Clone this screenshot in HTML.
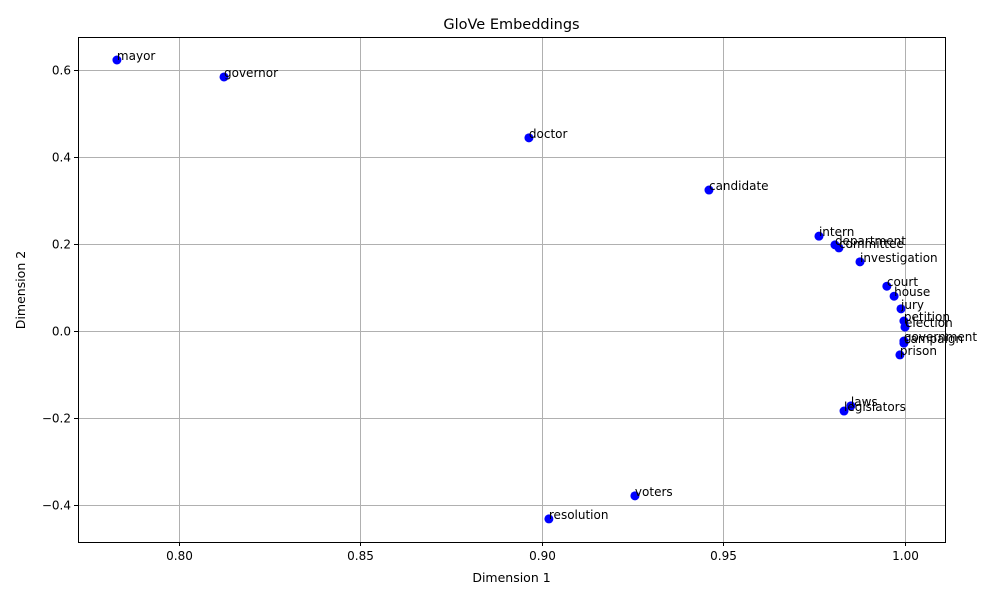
<!DOCTYPE html>
<html><head><meta charset="utf-8"><style>
body{margin:0;background:#fff;font-family:"Liberation Sans","DejaVu Sans",sans-serif}
svg text{font-family:"DejaVu Sans","Liberation Sans",sans-serif}
</style></head><body>
<svg id="chart" width="1000" height="600" xmlns="http://www.w3.org/2000/svg"></svg>
<script>
const words=["mayor","governor","doctor","candidate","intern","department","committee","investigation","court","house","jury","petition","election","government","campaign","prison","laws","legislators","voters","resolution"];
const dim1=[0.7829,0.8124,0.8964,0.946,0.9763,0.9807,0.9818,0.9876,0.995,0.997,0.9989,0.9997,1.0,0.9997,0.9997,0.9986,0.9851,0.9832,0.9256,0.9019];
const dim2=[0.623,0.584,0.444,0.324,0.218,0.198,0.191,0.159,0.103,0.080,0.051,0.023,0.009,-0.023,-0.028,-0.055,-0.172,-0.184,-0.379,-0.432];
const xTicks=[0.80,0.85,0.90,0.95,1.00];
const xTickLabels=["0.80","0.85","0.90","0.95","1.00"];
const yTicks=[-0.4,-0.2,0.0,0.2,0.4,0.6];
const yTickLabels=["\u22120.4","\u22120.2","0.0","0.2","0.4","0.6"];
const L=78,R=945,T=37,B=542;
const sx=v=>179+(v-0.80)*3630;
const sy=v=>331-v*435;
const svg=document.getElementById('chart');
const NS="http://www.w3.org/2000/svg";
function mk(tag,attrs,parent){const e=document.createElementNS(NS,tag);for(const k in attrs)e.setAttribute(k,attrs[k]);(parent||svg).appendChild(e);return e;}
const grid=mk('g',{});


xTicks.forEach((v,i)=>{
 const x=Math.round(sx(v))+0.5;
 mk('line',{x1:x,x2:x,y1:T,y2:B,stroke:'#b0b0b0','stroke-width':1},grid);
 mk('line',{x1:x,x2:x,y1:B,y2:B+4,stroke:'#000','stroke-width':1});
 const t=mk('text',{x:x,y:B+18,'font-size':12,'text-anchor':'middle'});t.textContent=xTickLabels[i];
 
 
});
yTicks.forEach((v,i)=>{
 const y=Math.round(sy(v))+0.5;
 mk('line',{x1:L,x2:R,y1:y,y2:y,stroke:'#b0b0b0','stroke-width':1},grid);
 mk('line',{x1:L-4,x2:L,y1:y,y2:y,stroke:'#000','stroke-width':1});
 const t=mk('text',{x:L-7,y:y+4,'font-size':12,'text-anchor':'end'});t.textContent=yTickLabels[i];
 
 
});
const pts=mk('g',{});


words.forEach((w,i)=>{
 const x=sx(dim1[i]),y=sy(dim2[i]);
 const c=mk('circle',{cx:x,cy:y,r:4.5,fill:'#0000ff'},pts);
 
 
});
words.forEach((w,i)=>{
 const x=sx(dim1[i]),y=sy(dim2[i]);
 const t=mk('text',{x:x,y:y,'font-size':12},pts);t.textContent=w;
 
 
});
const frame=mk('rect',{x:L+0.5,y:T+0.5,width:R-L,height:B-T,fill:'none',stroke:'#000','stroke-width':1});


let t=mk('text',{x:(L+R)/2,y:29,'font-size':14.5,'text-anchor':'middle'});t.textContent='GloVe Embeddings';


t=mk('text',{x:(L+R)/2,y:582,'font-size':12.5,'text-anchor':'middle'});t.textContent='Dimension 1';


t=mk('text',{x:0,y:0,'font-size':12.5,'text-anchor':'middle',transform:'translate(25,290) rotate(-90)'});t.textContent='Dimension 2';


</script>
</body></html>
